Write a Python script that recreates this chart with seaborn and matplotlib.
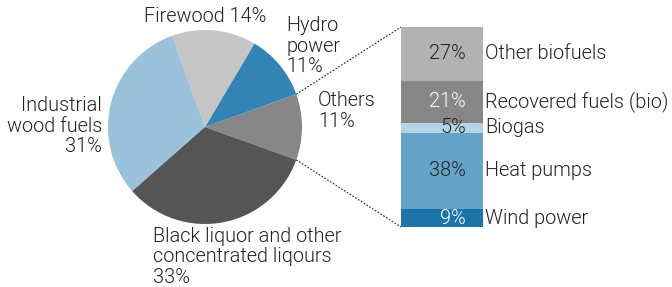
import matplotlib
matplotlib.use("Agg")
import matplotlib.pyplot as plt
import seaborn as sns
import numpy as np

sns.set_style("white")
plt.rcParams['font.family'] = ['Roboto', 'DejaVu Sans']

# Pie data (counter-clockwise from "Others")
pie_labels = ["Others\n11%", "Hydro\npower\n11%", "Firewood 14%",
              "Industrial\nwood fuels\n31%", "Black liquor and other\nconcentrated liqours\n33%"]
pie_values = [11, 11, 14, 31, 33]
pie_colors = ["#878787", "#3384b5", "#c5c5c5", "#9bc1db", "#555555"]

# Breakdown of "Others" (bottom to top)
bar_labels = ["Wind power", "Heat pumps", "Biogas", "Recovered fuels (bio)", "Other biofuels"]
bar_values = [9, 38, 5, 21, 27]
bar_colors = ["#1c74a9", "#65a3c8", "#b4d4e6", "#878787", "#b2b2b2"]
bar_text_colors = ["white", "#222222", "#222222", "white", "#222222"]

W, H = 672, 287
fig = plt.figure(figsize=(W / 100, H / 100), dpi=100)
ax = fig.add_axes([0, 0, 1, 1])
ax.set_xlim(0, W)
ax.set_ylim(0, H)
ax.set_aspect("equal")
ax.axis("off")

cx, cy, r = 205, H - 127, 97
start = -pie_values[0] / 100 * 180
ax.pie(pie_values, colors=pie_colors, startangle=start, counterclock=True,
       center=(cx, cy), radius=r, frame=True, wedgeprops=dict(linewidth=0))
ax.set_xlim(0, W)
ax.set_ylim(0, H)
ax.axis("off")

fs = 14.3
tc = "#222222"
fw = 300
txt_kw = dict(fontsize=fs, color=tc, fontweight=fw, linespacing=1.07)
ax.text(318, H - 111, pie_labels[0], ha="left", va="center", **txt_kw)
ax.text(286, H - 46, pie_labels[1], ha="left", va="center", **txt_kw)
ax.text(205, H - 16, pie_labels[2], ha="center", va="center", **txt_kw)
ax.text(102, H - 126, pie_labels[3], ha="right", va="center", multialignment="right", **txt_kw)
ax.text(153, H - 257, pie_labels[4], ha="left", va="center", **txt_kw)

# connector lines
a1 = np.deg2rad(start)
a2 = np.deg2rad(-start)
bx0, by_top, by_bot = 401, H - 27, H - 227
ax.plot([cx + r * np.cos(a2), bx0], [cy + r * np.sin(a2), by_top], ls=(0, (1.5, 1.5)), lw=0.8, color="#222222")
ax.plot([cx + r * np.cos(a1), bx0], [cy + r * np.sin(a1), by_bot], ls=(0, (1.5, 1.5)), lw=0.8, color="#222222")

# stacked bar
bax = fig.add_axes([401 / W, 60 / H, 82 / W, 200 / H])
bottoms = np.concatenate([[0], np.cumsum(bar_values)[:-1]])
bax.bar([0] * len(bar_values), bar_values, bottom=bottoms, color=bar_colors, width=1.0, linewidth=0)
bax.set_xlim(-0.5, 0.5)
bax.set_ylim(0, sum(bar_values))
bax.axis("off")
for v, b, lab, tcol in zip(bar_values, bottoms, bar_labels, bar_text_colors):
    mid = b + v / 2
    bax.text(0.29, mid, f"{v}%", ha="right", va="center", fontsize=fs, color=tcol, fontweight=fw)
    bax.text(0.53, mid, lab, ha="left", va="center", fontsize=fs, color=tc, fontweight=fw, clip_on=False)

fig.savefig("out.png", dpi=100)
